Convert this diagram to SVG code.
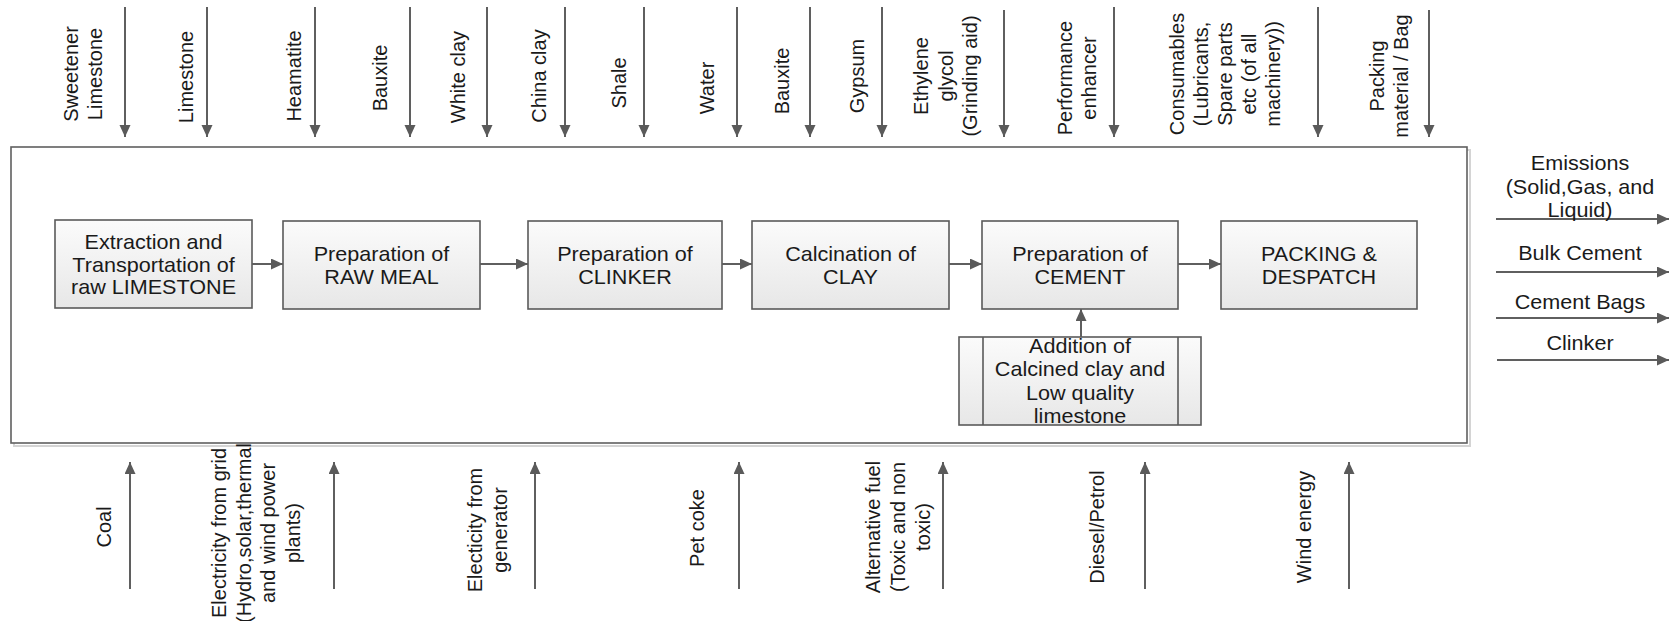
<svg xmlns="http://www.w3.org/2000/svg" width="1675" height="621" viewBox="0 0 1675 621">
  <style>
    text { font-family: "Liberation Sans", Arial, sans-serif; font-size: 20px; fill: #1a1a1a; }
    .mid { text-anchor: middle; }
    .flow { fill: none; stroke: #5f5f5f; stroke-width: 2; marker-end: url(#arrow); }
    .box { fill: url(#boxFill); stroke: #5a5a5a; stroke-width: 1.6; }
    .frame { fill: #ffffff; stroke: #5f5f5f; stroke-width: 1.6; }
    .frameShadow { fill: none; stroke: #d4d4d4; stroke-width: 2; }
  </style>
  <defs>
    <linearGradient id="boxFill" x1="0" y1="0" x2="0" y2="1">
      <stop offset="0" stop-color="#fbfbfb"/>
      <stop offset="1" stop-color="#e7e7e7"/>
    </linearGradient>
    <marker id="arrow" markerUnits="userSpaceOnUse" markerWidth="13" markerHeight="12" refX="12" refY="5.5" orient="auto">
      <path d="M0,0 L12,5.5 L0,11 z" fill="#5a5a5a"/>
    </marker>
  </defs>

  <!-- plant boundary -->
  <g id="boundary">
    <rect class="frameShadow" x="14" y="150" width="1456" height="296"/>
    <rect class="frame" x="11" y="147" width="1456" height="296"/>
  </g>

  <!-- process steps (horizontal labels are drawn slightly wide) -->
  <g id="extraction">
    <rect class="box" x="55" y="220" width="197" height="88"/>
    <text class="mid" transform="translate(153.5 0) scale(1.08 1)"><tspan x="0" y="249">Extraction and</tspan><tspan x="0" y="272">Transportation of</tspan><tspan x="0" y="294">raw LIMESTONE</tspan></text>
  </g>
  <g id="raw-meal">
    <rect class="box" x="283" y="221" width="197" height="88"/>
    <text class="mid" transform="translate(381.5 0) scale(1.08 1)"><tspan x="0" y="261">Preparation of</tspan><tspan x="0" y="284">RAW MEAL</tspan></text>
  </g>
  <g id="clinker">
    <rect class="box" x="528" y="221" width="194" height="88"/>
    <text class="mid" transform="translate(625 0) scale(1.08 1)"><tspan x="0" y="261">Preparation of</tspan><tspan x="0" y="284">CLINKER</tspan></text>
  </g>
  <g id="calcination">
    <rect class="box" x="752" y="221" width="197" height="88"/>
    <text class="mid" transform="translate(850.5 0) scale(1.08 1)"><tspan x="0" y="261">Calcination of</tspan><tspan x="0" y="284">CLAY</tspan></text>
  </g>
  <g id="cement">
    <rect class="box" x="982" y="221" width="196" height="88"/>
    <text class="mid" transform="translate(1080 0) scale(1.08 1)"><tspan x="0" y="261">Preparation of</tspan><tspan x="0" y="284">CEMENT</tspan></text>
  </g>
  <g id="packing">
    <rect class="box" x="1221" y="221" width="196" height="88"/>
    <text class="mid" transform="translate(1319 0) scale(1.08 1)"><tspan x="0" y="261">PACKING &amp;</tspan><tspan x="0" y="284">DESPATCH</tspan></text>
  </g>
  <g id="addition">
    <rect class="box" x="959" y="337" width="242" height="88"/>
    <line x1="983" y1="337" x2="983" y2="425" stroke="#5a5a5a" stroke-width="1.6"/>
    <line x1="1178" y1="337" x2="1178" y2="425" stroke="#5a5a5a" stroke-width="1.6"/>
    <text class="mid" transform="translate(1080 0) scale(1.08 1)"><tspan x="0" y="353">Addition of</tspan><tspan x="0" y="376">Calcined clay and</tspan><tspan x="0" y="400">Low quality</tspan><tspan x="0" y="423">limestone</tspan></text>
  </g>

  <!-- connectors -->
  <g id="connectors">
    <!-- process chain -->
    <line class="flow" x1="252" y1="264" x2="283" y2="264"/>
    <line class="flow" x1="480" y1="264" x2="528" y2="264"/>
    <line class="flow" x1="722" y1="264" x2="752" y2="264"/>
    <line class="flow" x1="949" y1="264" x2="982" y2="264"/>
    <line class="flow" x1="1178" y1="264" x2="1221" y2="264"/>
    <line class="flow" x1="1081" y1="337" x2="1081" y2="309"/>

    <!-- material inputs from above -->
    <line class="flow" x1="125" y1="7" x2="125" y2="137"/>
    <line class="flow" x1="207" y1="7" x2="207" y2="137"/>
    <line class="flow" x1="315" y1="7" x2="315" y2="137"/>
    <line class="flow" x1="410" y1="7" x2="410" y2="137"/>
    <line class="flow" x1="487" y1="7" x2="487" y2="137"/>
    <line class="flow" x1="565" y1="7" x2="565" y2="137"/>
    <line class="flow" x1="644" y1="7" x2="644" y2="137"/>
    <line class="flow" x1="737" y1="7" x2="737" y2="137"/>
    <line class="flow" x1="810" y1="7" x2="810" y2="137"/>
    <line class="flow" x1="882" y1="7" x2="882" y2="137"/>
    <line class="flow" x1="1004" y1="10" x2="1004" y2="137"/>
    <line class="flow" x1="1114" y1="7" x2="1114" y2="137"/>
    <line class="flow" x1="1318" y1="7" x2="1318" y2="137"/>
    <line class="flow" x1="1429" y1="10" x2="1429" y2="137"/>

    <!-- energy inputs from below -->
    <line class="flow" x1="130" y1="589" x2="130" y2="462"/>
    <line class="flow" x1="334" y1="589" x2="334" y2="462"/>
    <line class="flow" x1="535" y1="589" x2="535" y2="462"/>
    <line class="flow" x1="739" y1="589" x2="739" y2="462"/>
    <line class="flow" x1="943" y1="589" x2="943" y2="462"/>
    <line class="flow" x1="1145" y1="589" x2="1145" y2="462"/>
    <line class="flow" x1="1349" y1="589" x2="1349" y2="462"/>

    <!-- outputs -->
    <line class="flow" x1="1496" y1="219" x2="1669" y2="219"/>
    <line class="flow" x1="1496" y1="272" x2="1669" y2="272"/>
    <line class="flow" x1="1496" y1="318" x2="1669" y2="318"/>
    <line class="flow" x1="1497" y1="360" x2="1669" y2="360"/>
  </g>

  <!-- input labels (top) -->
  <g id="top-labels">
    <text class="mid" transform="translate(0,74) rotate(-90)"><tspan x="0" y="78">Sweetener</tspan><tspan x="0" y="102">Limestone</tspan></text>
    <text class="mid" transform="translate(0,77) rotate(-90)"><tspan x="0" y="193">Limestone</tspan></text>
    <text class="mid" transform="translate(0,76) rotate(-90)"><tspan x="0" y="301">Heamatite</tspan></text>
    <text class="mid" transform="translate(0,78) rotate(-90)"><tspan x="0" y="387">Bauxite</tspan></text>
    <text class="mid" transform="translate(0,77) rotate(-90)"><tspan x="0" y="465">White clay</tspan></text>
    <text class="mid" transform="translate(0,76) rotate(-90)"><tspan x="0" y="546">China clay</tspan></text>
    <text class="mid" transform="translate(0,83) rotate(-90)"><tspan x="0" y="626">Shale</tspan></text>
    <text class="mid" transform="translate(0,88) rotate(-90)"><tspan x="0" y="714">Water</tspan></text>
    <text class="mid" transform="translate(0,81) rotate(-90)"><tspan x="0" y="789">Bauxite</tspan></text>
    <text class="mid" transform="translate(0,76) rotate(-90)"><tspan x="0" y="864">Gypsum</tspan></text>
    <text class="mid" transform="translate(0,76) rotate(-90)"><tspan x="0" y="928">Ethylene</tspan><tspan x="0" y="953">glycol</tspan><tspan x="0" y="977">(Grinding aid)</tspan></text>
    <text class="mid" transform="translate(0,78) rotate(-90)"><tspan x="0" y="1072">Performance</tspan><tspan x="0" y="1096">enhancer</tspan></text>
    <text class="mid" transform="translate(0,74) rotate(-90)"><tspan x="0" y="1184">Consumables</tspan><tspan x="0" y="1208">(Lubricants,</tspan><tspan x="0" y="1232">Spare parts</tspan><tspan x="0" y="1256">etc (of all</tspan><tspan x="0" y="1280">machinery))</tspan></text>
    <text class="mid" transform="translate(0,76) rotate(-90)"><tspan x="0" y="1384">Packing</tspan><tspan x="0" y="1408">material / Bag</tspan></text>
  </g>

  <!-- energy labels (bottom) -->
  <g id="bottom-labels">
    <text class="mid" transform="translate(0,527) rotate(-90)"><tspan x="0" y="111">Coal</tspan></text>
    <text class="mid" transform="translate(0,533) rotate(-90)"><tspan x="0" y="226">Electricity from grid</tspan><tspan x="0" y="250.5">(Hydro,solar,thermal</tspan><tspan x="0" y="275">and wind power</tspan><tspan x="0" y="299.5">plants)</tspan></text>
    <text class="mid" transform="translate(0,530) rotate(-90)"><tspan x="0" y="482">Electicity from</tspan><tspan x="0" y="507">generator</tspan></text>
    <text class="mid" transform="translate(0,528) rotate(-90)"><tspan x="0" y="704">Pet coke</tspan></text>
    <text class="mid" transform="translate(0,527) rotate(-90)"><tspan x="0" y="880">Alternative fuel</tspan><tspan x="0" y="905">(Toxic and non</tspan><tspan x="0" y="930">toxic)</tspan></text>
    <text class="mid" transform="translate(0,527) rotate(-90)"><tspan x="0" y="1104">Diesel/Petrol</tspan></text>
    <text class="mid" transform="translate(0,527) rotate(-90)"><tspan x="0" y="1311">Wind energy</tspan></text>
  </g>

  <!-- output labels -->
  <g id="output-labels">
    <text class="mid" transform="translate(1580 0) scale(1.08 1)"><tspan x="0" y="170">Emissions</tspan><tspan x="0" y="194">(Solid,Gas, and</tspan><tspan x="0" y="217">Liquid)</tspan></text>
    <text class="mid" transform="translate(1580 0) scale(1.08 1)" x="0" y="260">Bulk Cement</text>
    <text class="mid" transform="translate(1580 0) scale(1.08 1)" x="0" y="309">Cement Bags</text>
    <text class="mid" transform="translate(1580 0) scale(1.08 1)" x="0" y="350">Clinker</text>
  </g>
</svg>
